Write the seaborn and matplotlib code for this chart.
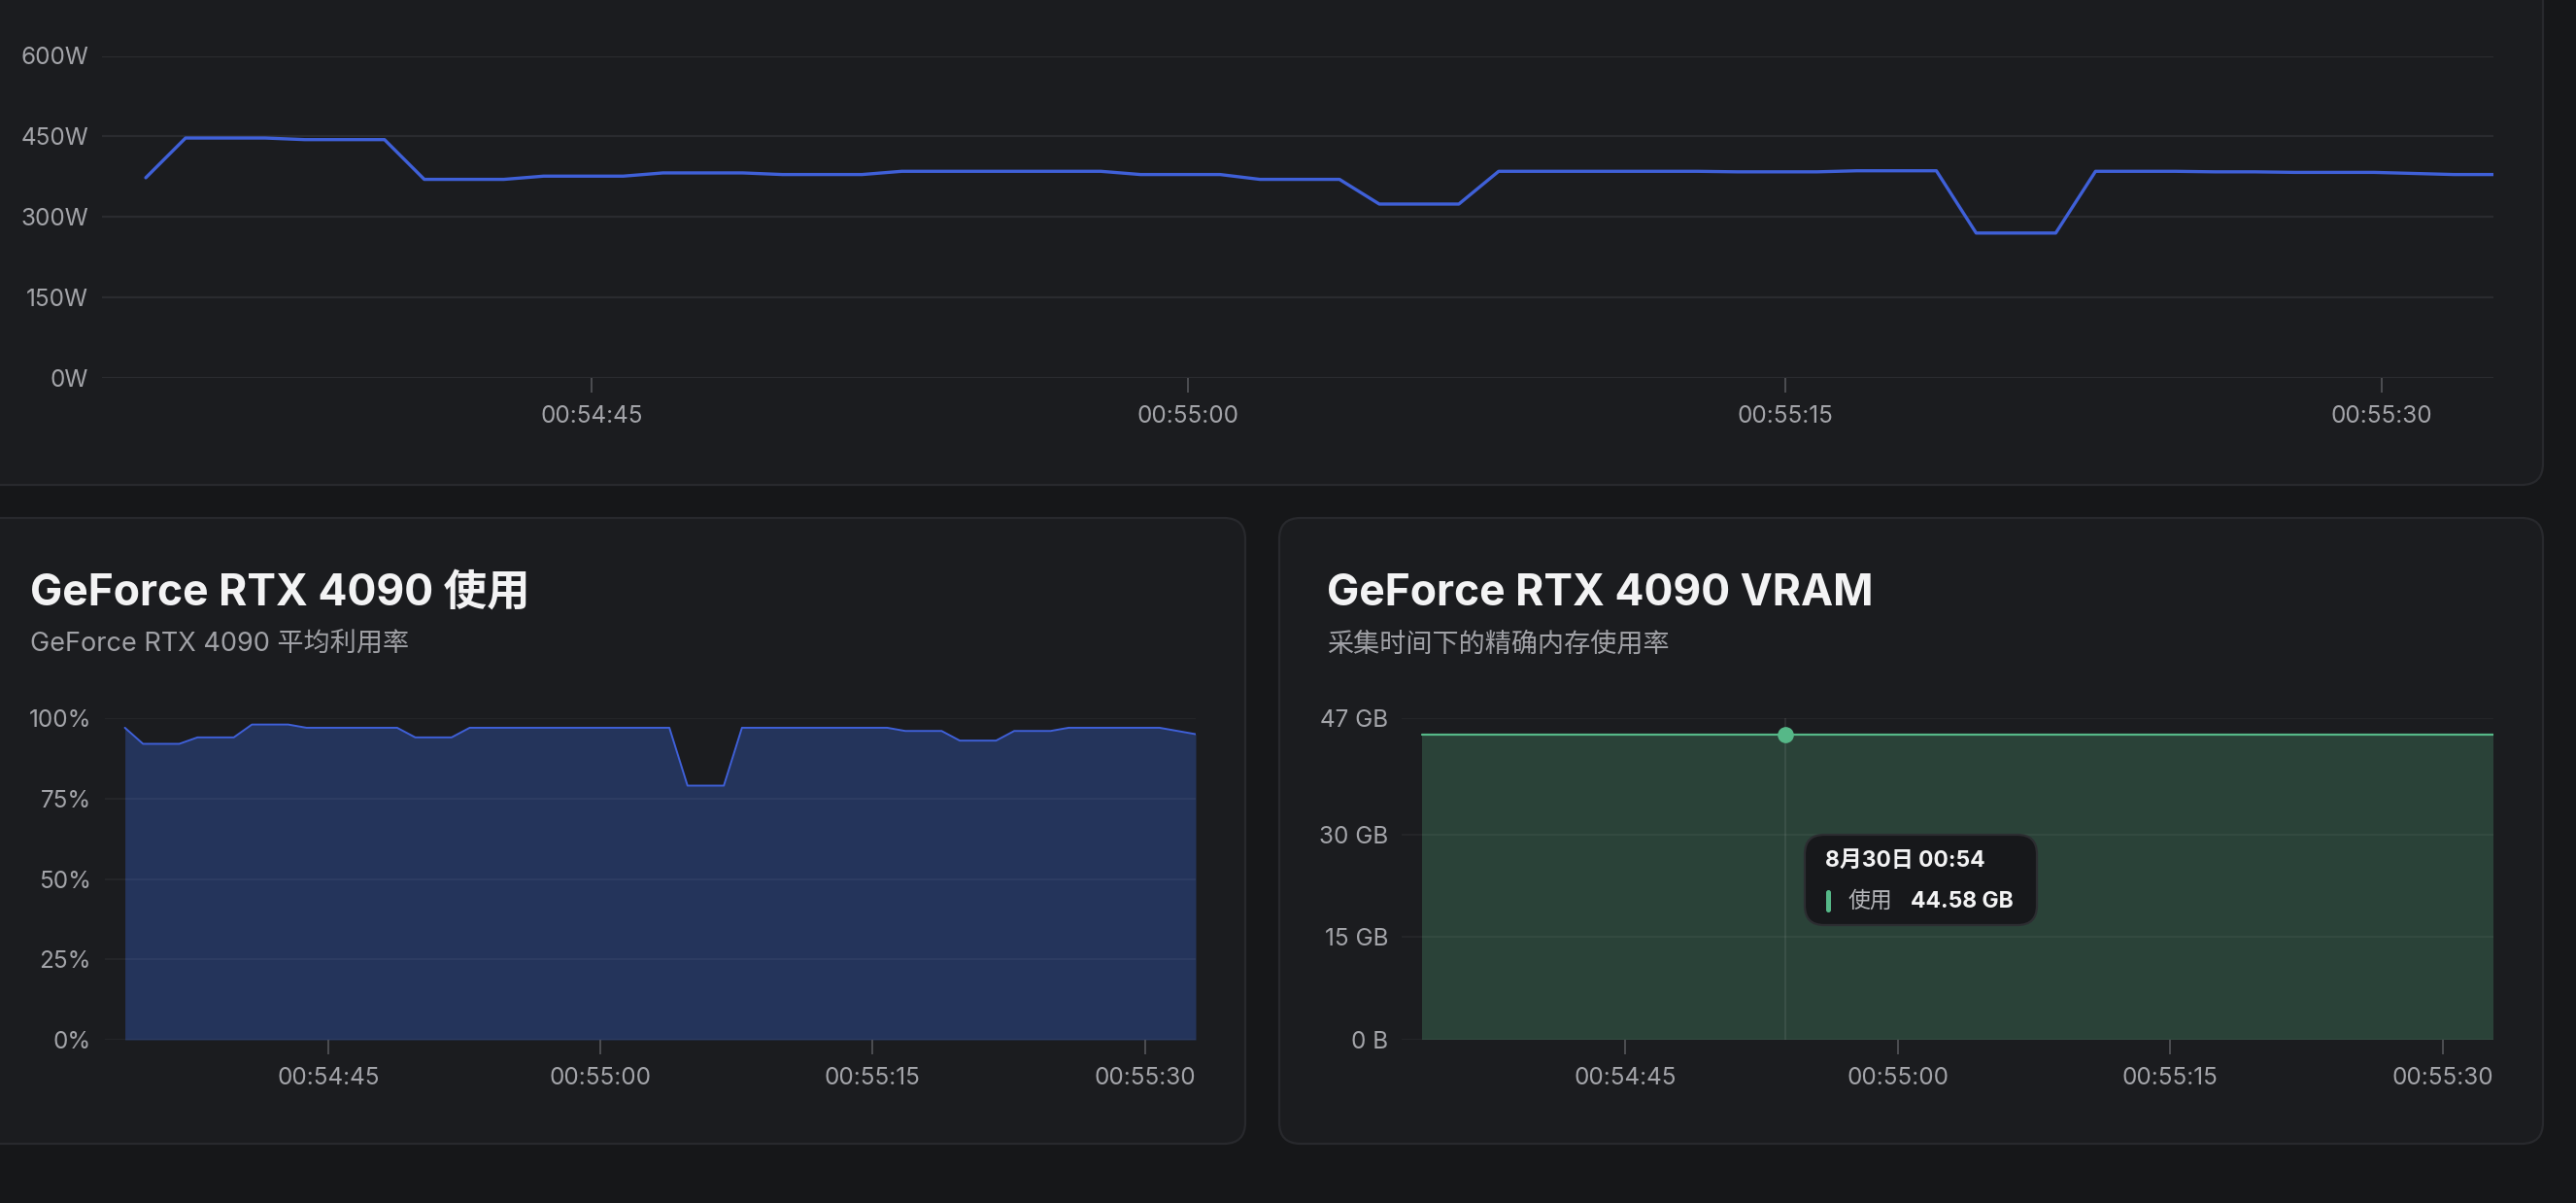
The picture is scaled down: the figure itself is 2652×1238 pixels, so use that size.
import matplotlib
matplotlib.use('Agg')
from matplotlib import pyplot as plt
from matplotlib.patches import FancyBboxPatch
import pandas as pd
import seaborn as sns

# samples, one per second
day = '2024-08-30 '
times = pd.date_range(day + '00:54:33.8', periods=60, freq='1s')

power_w = [373, 447, 447, 447, 444, 444, 444, 370, 370, 370,
           376, 376, 376, 382, 382, 382, 379, 379, 379, 385,
           385, 385, 385, 385, 385, 379, 379, 379, 370, 370,
           370, 324, 324, 324, 385, 385, 385, 385, 385, 385,
           384, 384, 384, 386, 386, 386, 270, 270, 270, 385,
           385, 385, 384, 384, 383, 383, 383, 381, 379, 379]

usage_pct = [97, 92, 92, 92, 94, 94, 94, 98, 98, 98,
             97, 97, 97, 97, 97, 97, 94, 94, 94, 97,
             97, 97, 97, 97, 97, 97, 97, 97, 97, 97,
             97, 79, 79, 79, 97, 97, 97, 97, 97, 97,
             97, 97, 97, 96, 96, 96, 93, 93, 93, 96,
             96, 96, 97, 97, 97, 97, 97, 97, 96, 95]

vram_gb = [44.58] * 60

tick_times = ['00:54:45', '00:55:00', '00:55:15', '00:55:30']
power_ticks = [0, 150, 300, 450, 600]
power_labels = ['0W', '150W', '300W', '450W', '600W']
usage_ticks = [0, 25, 50, 75, 100]
usage_labels = ['0%', '25%', '50%', '75%', '100%']
vram_ticks = [0, 15, 30, 47]
vram_labels = ['0 B', '15 GB', '30 GB', '47 GB']

usage_title = 'GeForce RTX 4090 使用'
usage_sub = 'GeForce RTX 4090 平均利用率'
vram_title = 'GeForce RTX 4090 VRAM'
vram_sub = '采集时间下的精确内存使用率'

hover_idx = 20
tip_time = '8月30日 00:54'
tip_name = '使用'
tip_value = '44.58 GB'

PAGE = '#161719'
CARD = '#1b1c1f'
BORDER = '#28292d'
GRID = '#2a2b2f'
TICKTXT = '#a3a4a9'
BLUE = '#3f60d8'
NAVY = '#24345b'
GREEN = '#56b888'
GREEN_FILL = '#2a4238'

sns.set_theme(style='dark', rc={'axes.facecolor': 'none', 'figure.facecolor': PAGE})
FONTS = ['Inter', 'Noto Sans CJK SC', 'DejaVu Sans']
plt.rcParams['font.family'] = FONTS

W, H = 2652, 1238
fig = plt.figure(figsize=(W / 100, H / 100), dpi=100)
fig.patch.set_facecolor(PAGE)

# background layer in pixel coordinates
bg = fig.add_axes([0, 0, 1, 1], zorder=0)
bg.set_xlim(0, W)
bg.set_ylim(H, 0)
bg.axis('off')
for (x0, y0, x1, y1) in [(-40, -60, 2618, 499), (-40, 533, 1282, 1177), (1317, 533, 2618, 1177)]:
    bg.add_patch(FancyBboxPatch((x0, y0), x1 - x0, y1 - y0,
                                boxstyle='round,pad=0,rounding_size=22',
                                facecolor=CARD, edgecolor=BORDER, lw=1.6))


def px_axes(x0, y0, x1, y1):
    return fig.add_axes([x0 / W, 1 - y1 / H, (x1 - x0) / W, (y1 - y0) / H], zorder=2)


def style(ax, yticks, ylabels, ymax, grid_color=GRID, grid_alpha=1.0):
    ax.set_facecolor('none')
    for s in ax.spines.values():
        s.set_visible(False)
    ax.set_ylim(0, ymax)
    ax.set_yticks(yticks)
    ax.set_yticklabels(ylabels)
    ax.set_xlim(pd.Timestamp(day + '00:54:32.7'), times[-1])
    ax.set_xticks([pd.Timestamp(day + t) for t in tick_times])
    ax.set_xticklabels(tick_times)
    ax.set_xlabel('')
    ax.set_ylabel('')
    ax.tick_params(axis='y', length=0, pad=10, labelsize=17.5, labelcolor=TICKTXT)
    ax.tick_params(axis='x', length=11, width=1.2, color='#55565b', pad=9,
                   labelsize=17.5, labelcolor=TICKTXT, bottom=True)
    ax.yaxis.grid(True, color=grid_color, alpha=grid_alpha, lw=1.6)
    ax.xaxis.grid(False)


df = pd.DataFrame({'time': times, 'power': power_w, 'usage': usage_pct, 'vram': vram_gb})

# power
ax1 = px_axes(105, 57.5, 2567, 389)
sns.lineplot(data=df, x='time', y='power', ax=ax1, color=BLUE, linewidth=2.4, zorder=3)
style(ax1, power_ticks, power_labels, 600)

# usage
ax2 = px_axes(108, 739, 1231, 1070)
ax2.fill_between(df['time'], 0, df['usage'], color=NAVY, lw=0, zorder=1)
sns.lineplot(data=df, x='time', y='usage', ax=ax2, color=BLUE, linewidth=1.4, zorder=3)
style(ax2, usage_ticks, usage_labels, 100, grid_color='#ffffff', grid_alpha=0.045)
ax2.set_axisbelow(False)

# vram
ax3 = px_axes(1443, 739, 2567, 1070)
ax3.fill_between(df['time'], 0, df['vram'], color=GREEN_FILL, lw=0, zorder=1)
sns.lineplot(data=df, x='time', y='vram', ax=ax3, color=GREEN, linewidth=1.6, zorder=3)
style(ax3, vram_ticks, vram_labels, 47, grid_color='#ffffff', grid_alpha=0.045)
ax3.set_axisbelow(False)
ax3.axvline(times[hover_idx], color='#ffffff', alpha=0.08, lw=1.4, zorder=2)
ax3.plot([times[hover_idx]], [vram_gb[hover_idx]], 'o', ms=11, color=GREEN, zorder=4)

# titles
fig.text(31 / W, 1 - 623 / H, usage_title, fontsize=32, fontweight='bold', color='#f3f3f4',
         va='baseline', family=FONTS)
fig.text(31 / W, 1 - 671 / H, usage_sub, fontsize=19.5, color='#a0a1a6', va='baseline', family=FONTS)
fig.text(1366 / W, 1 - 623 / H, vram_title, fontsize=32, fontweight='bold', color='#f3f3f4',
         va='baseline', family=FONTS)
fig.text(1366 / W, 1 - 671 / H, vram_sub, fontsize=19.5, color='#a0a1a6', va='baseline', family=FONTS)

# tooltip overlay
ov = fig.add_axes([0, 0, 1, 1], zorder=5)
ov.set_xlim(0, W)
ov.set_ylim(H, 0)
ov.axis('off')
ov.add_patch(FancyBboxPatch((1858, 859), 239, 93, boxstyle='round,pad=0,rounding_size=20',
                            facecolor='#17181b', edgecolor='#2c2d31', lw=1.6))
ov.text(1879, 886, tip_time, fontsize=16.5, fontweight='bold', color='#f3f3f4', va='center', family=FONTS)
ov.add_patch(FancyBboxPatch((1880, 916), 5, 23, boxstyle='round,pad=0,rounding_size=2.5',
                            facecolor=GREEN, lw=0))
ov.text(1903, 928, tip_name, fontsize=16.5, color='#b5b6ba', va='center', family=FONTS)
ov.text(1967, 928, tip_value, fontsize=16.5, fontweight='bold', color='#f3f3f4', va='center', family=FONTS)

fig.savefig('out.png', dpi=100, facecolor=PAGE)
